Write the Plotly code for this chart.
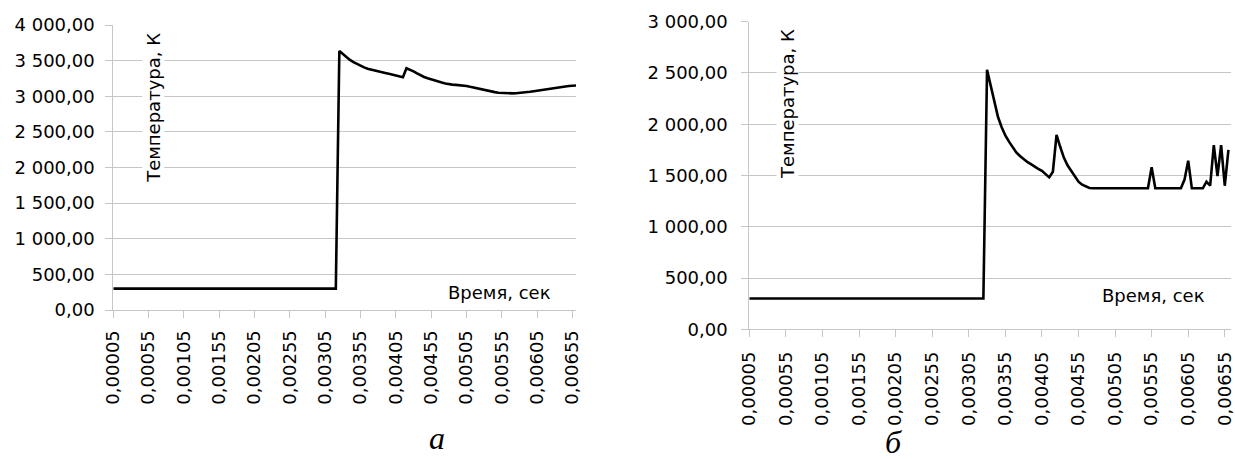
import plotly.graph_objects as go

# ---------------- data ----------------
# time categories (s), step 0.00005 s
time_s = [round(0.00005 * (i + 1), 5) for i in range(132)]

tick_vals = [0.00005, 0.00055, 0.00105, 0.00155, 0.00205, 0.00255, 0.00305,
             0.00355, 0.00405, 0.00455, 0.00505, 0.00555, 0.00605, 0.00655]

temp_a = [
    300, 300, 300, 300, 300, 300, 300, 300,
    300, 300, 300, 300, 300, 300, 300, 300,
    300, 300, 300, 300, 300, 300, 300, 300,
    300, 300, 300, 300, 300, 300, 300, 300,
    300, 300, 300, 300, 300, 300, 300, 300,
    300, 300, 300, 300, 300, 300, 300, 300,
    300, 300, 300, 300, 300, 300, 300, 300,
    300, 300, 300, 300, 300, 300, 300, 300,
    3635, 3590, 3550, 3510, 3478, 3450, 3425, 3405, 3387, 3373,
    3360, 3348, 3337, 3326, 3315, 3302, 3290, 3278, 3266, 3392,
    3375, 3350, 3320, 3290, 3270, 3252, 3235, 3218, 3205, 3192,
    3180, 3168, 3163, 3160, 3158, 3155, 3145, 3133, 3121, 3110,
    3100, 3088, 3078, 3068, 3058, 3050, 3046, 3043, 3041, 3041,
    3042, 3045, 3049, 3055, 3062, 3070, 3078, 3087, 3096, 3105,
    3114, 3120, 3126, 3132, 3138, 3143, 3148, 3152,
]

temp_b = [
    300, 300, 300, 300, 300, 300, 300, 300,
    300, 300, 300, 300, 300, 300, 300, 300,
    300, 300, 300, 300, 300, 300, 300, 300,
    300, 300, 300, 300, 300, 300, 300, 300,
    300, 300, 300, 300, 300, 300, 300, 300,
    300, 300, 300, 300, 300, 300, 300, 300,
    300, 300, 300, 300, 300, 300, 300, 300,
    300, 300, 300, 300, 300, 300, 300, 300,
    300,
    2530, 2370, 2200, 2070, 1970, 1890, 1830, 1775, 1725, 1690,
    1660, 1632, 1610, 1585, 1565, 1545, 1515, 1482, 1537, 1895,
    1780, 1675, 1600, 1550, 1495, 1440, 1410, 1390, 1378, 1375,
    1375, 1375, 1375, 1375, 1375, 1375, 1375, 1375, 1375, 1375,
    1375, 1375, 1375, 1375, 1375, 1580, 1375, 1375, 1375, 1375,
    1375, 1375, 1375, 1375, 1460, 1645, 1375, 1375, 1375, 1375,
    1440, 1400, 1797, 1495, 1797, 1400, 1750,
]

y_title = "Температура, К"
x_title = "Время, сек"
captions = ["а", "б"]

# ---------------- layout helpers ----------------
W, H = 1235, 459
def px(x):
    return x / W
def py(y):
    return 1 - y / H

GRID = "#c6c6c6"
FONT = dict(family="DejaVu Sans", size=18, color="black")

fig = go.Figure()
fig.add_trace(go.Scatter(x=time_s, y=temp_a, xaxis="x", yaxis="y", mode="lines",
                         line=dict(color="black", width=2.6), showlegend=False))
fig.add_trace(go.Scatter(x=time_s, y=temp_b, xaxis="x2", yaxis="y2", mode="lines",
                         line=dict(color="black", width=2.6), showlegend=False))

xcommon = dict(showgrid=False, zeroline=False, showline=True, linecolor=GRID, linewidth=1,
               ticks="outside", ticklen=7, tickcolor=GRID, tickwidth=1,
               tickmode="array", tickvals=tick_vals, tickformat=".5f", tickangle=-90,
               tickfont=FONT, automargin=False)
ycommon = dict(showgrid=True, gridcolor=GRID, gridwidth=1, zeroline=False, showline=True,
               linecolor=GRID, linewidth=1, ticks="outside", ticklen=7, tickcolor=GRID,
               tickwidth=1, dtick=500, tick0=0, tickformat=",.2f", tickfont=FONT,
               automargin=False)

fig.update_layout(
    width=W, height=H, margin=dict(l=0, r=0, t=0, b=0),
    template="none", separators=", ",
    paper_bgcolor="white", plot_bgcolor="white", showlegend=False,
    xaxis=dict(domain=[px(113.3), px(576)], range=[0.00005, 0.0066], anchor="y",
               ticklabelstandoff=5, **xcommon),
    yaxis=dict(domain=[py(310), py(25)], range=[0, 4000], anchor="x",
               ticklabelstandoff=7, **ycommon),
    xaxis2=dict(domain=[px(749.3), px(1231)], range=[0.00005, 0.006635], anchor="y2",
                ticklabelstandoff=7, **xcommon),
    yaxis2=dict(domain=[py(329.3), py(21.7)], range=[0, 3000], anchor="x2",
                ticklabelstandoff=10, **ycommon),
)

ann = []
ann.append(dict(x=px(152.8), y=py(108), text=y_title, textangle=-90))
ann.append(dict(x=px(788), y=py(104), text=y_title, textangle=-90))
ann.append(dict(x=px(499), y=py(292), text=x_title))
ann.append(dict(x=px(1153), y=py(295), text=x_title))
for a in ann:
    a.update(xref="paper", yref="paper", showarrow=False, font=FONT,
             bgcolor="white", xanchor="center", yanchor="middle", borderpad=0)
cap_font = dict(family="Liberation Serif", size=32, color="black")
ann.append(dict(x=px(437), y=py(438), text="<i>" + captions[0] + "</i>", xref="paper",
                yref="paper", showarrow=False, font=cap_font, xanchor="center", yanchor="middle"))
ann.append(dict(x=px(893), y=py(442), text="<i>" + captions[1] + "</i>", xref="paper",
                yref="paper", showarrow=False, font=cap_font, xanchor="center", yanchor="middle"))
fig.update_layout(annotations=ann)

fig.write_html("out.html")
